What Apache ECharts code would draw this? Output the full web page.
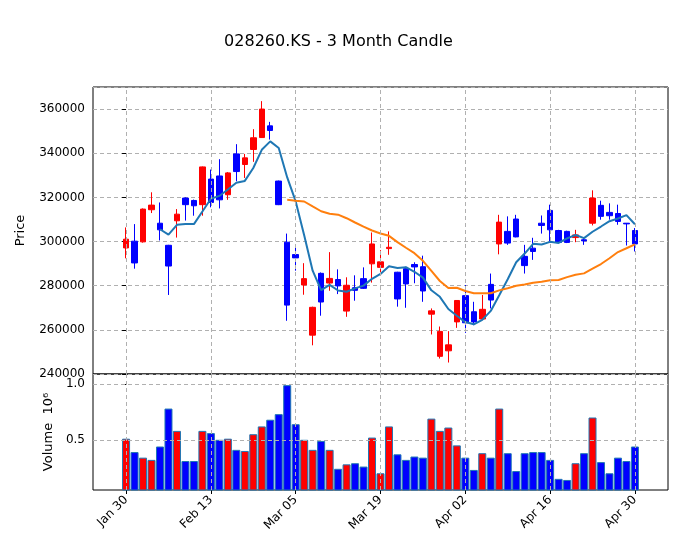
<!DOCTYPE html>
<html>
<head>
<meta charset="utf-8">
<script src="https://cdn.jsdelivr.net/npm/echarts@6/dist/echarts.min.js"></script>
<style>html,body{margin:0;padding:0;background:#fff}#chart{width:677px;height:553px}</style>
</head>
<body>
<div id="chart"></div>
<script>
const dates = ["Jan 30","Jan 31","Feb 01","Feb 02","Feb 05","Feb 06","Feb 07","Feb 08","Feb 09","Feb 12",
  "Feb 13","Feb 14","Feb 15","Feb 16","Feb 19","Feb 20","Feb 21","Feb 22","Feb 23","Feb 26",
  "Mar 05","Mar 06","Mar 07","Mar 08","Mar 11","Mar 12","Mar 13","Mar 14","Mar 15","Mar 18",
  "Mar 19","Mar 20","Mar 21","Mar 22","Mar 25","Mar 26","Mar 27","Mar 28","Mar 29","Apr 01",
  "Apr 02","Apr 03","Apr 04","Apr 05","Apr 08","Apr 09","Apr 10","Apr 11","Apr 12","Apr 15",
  "Apr 16","Apr 17","Apr 18","Apr 19","Apr 22","Apr 23","Apr 24","Apr 25","Apr 26","Apr 29","Apr 30"];
const opens = [297100,300160,299850,314400,308300,298300,309400,319700,318600,316700,
  328300,329700,321200,339700,334900,341700,347100,352400,327400,299700,
  294100,280300,257600,285600,281200,282800,268500,279100,283200,289900,
  288300,296800,286100,287700,289600,288600,267100,248000,250500,263600,
  275500,268200,264900,280600,298900,304600,310200,293300,297000,308300,
  314100,305000,304600,301800,300800,308300,316400,313200,312700,308300,305000];
const closes = [301070,290300,314700,316500,305300,288900,312400,316700,316200,333800,
  317700,318900,331100,331700,337900,347000,360000,350300,316700,271200,
  292600,283200,270200,272600,283300,279900,280200,277900,278800,298900,
  290800,297400,274000,280800,288500,277600,268600,259300,253200,273300,
  263200,263600,269300,273500,308800,299300,302100,289100,295500,307300,
  305300,299600,299600,303000,300300,319700,311400,311700,309100,308000,298900];
const lows = [292400,287700,299500,312900,300500,275800,301800,309500,311700,311700,
  315500,315000,318900,327300,328800,336100,346900,346200,316500,264100,
  286800,275900,253000,266400,277700,276200,265900,273200,278500,281400,
  285600,294000,270500,270000,281100,272700,257900,247000,245200,260900,
  258600,262100,264600,269700,294200,298500,301900,285500,291700,303600,
  300000,299300,299300,299700,298500,307300,309900,309900,307600,298200,295500];
const highs = [306400,307900,315000,322300,317700,298500,314700,320000,319000,334000,
  332600,337300,331500,344100,339700,350900,363600,354200,327600,303600,
  298800,290200,270500,286000,295200,287400,283800,284700,288300,304100,
  296100,304600,286300,288600,290600,293600,269700,261500,259400,273500,
  280300,272700,275800,285500,312100,311400,312100,298500,301700,311800,
  316700,305300,304900,305300,302000,323200,318500,317300,316700,308400,306100];
const volumes = [0.51,0.39,0.34,0.32,0.44,0.78,0.58,0.31,0.31,0.58,
  0.56,0.50,0.51,0.41,0.40,0.55,0.62,0.68,0.73,0.99,
  0.64,0.50,0.41,0.49,0.41,0.24,0.28,0.29,0.26,0.52,
  0.20,0.62,0.37,0.32,0.35,0.34,0.69,0.58,0.61,0.45,
  0.34,0.23,0.38,0.34,0.78,0.38,0.22,0.38,0.39,0.39,
  0.32,0.15,0.14,0.29,0.38,0.70,0.30,0.20,0.34,0.31,0.44];
const tickIdx = [0,10,20,30,40,50,60];
const volTicks = [0.5, 1.0];

const RED = '#ff0000', BLUE = '#0000ff';
const ma = (n) => closes.map((c, i) => {
  if (i < n - 1) return null;
  let s = 0;
  for (let k = i - n + 1; k <= i; k++) s += closes[k];
  return [i, s / n];
}).filter(Boolean);

const candles = opens.map((o, i) => [i, o, closes[i], lows[i], highs[i]]);
const vols = volumes.map((v, i) => ({
  value: [i, v],
  itemStyle: { color: closes[i] >= opens[i] ? RED : BLUE }
}));

const grid = { color: '#b0b0b0', type: [4, 3], width: 1 };
const xLines = tickIdx.map(i => ({ xAxis: i }));

const chart = echarts.init(document.getElementById('chart'));
const font = 'DejaVu Sans';
const xAx = (gi, showLabel) => ({
  type: 'value', gridIndex: gi, min: -3.9, max: 63.9,
  splitLine: { show: false },
  axisLine: { show: false },
  axisTick: { show: showLabel, length: 4, lineStyle: { color: '#000' }, customValues: tickIdx },
  axisLabel: {
    show: showLabel, customValues: tickIdx, rotate: 45, color: '#000', fontSize: 12, fontFamily: font,
    formatter: (v) => dates[Math.round(v)] || ''
  }
});

chart.setOption({
  animation: false,
  title: {
    text: '028260.KS - 3 Month Candle', left: 'center', top: 29,
    textStyle: { fontSize: 16, fontWeight: 'normal', color: '#000', fontFamily: font }
  },
  grid: [
    { left: 93, right: 9, top: 87, height: 287, show: true, borderColor: '#000', borderWidth: 1 },
    { left: 93, right: 9, top: 374, bottom: 63, show: true, borderColor: '#000', borderWidth: 1 }
  ],
  xAxis: [xAx(0, false), xAx(1, true)],
  yAxis: [
    {
      type: 'value', gridIndex: 0, min: 240000, max: 370000, interval: 20000,
      name: 'Price', nameLocation: 'middle', nameGap: 66, nameRotate: 90,
      nameTextStyle: { color: '#000', fontSize: 13, fontFamily: font },
      splitLine: { lineStyle: grid },
      axisLine: { show: false },
      axisTick: { show: true, length: 4, lineStyle: { color: '#000' } },
      axisLabel: { color: '#000', fontSize: 12, fontFamily: font, showMaxLabel: false, formatter: v => String(v) }
    },
    {
      type: 'value', gridIndex: 1, min: 0.05, max: 1.09,
      name: 'Volume  10⁶', nameLocation: 'middle', nameGap: 38, nameRotate: 90,
      nameTextStyle: { color: '#000', fontSize: 13, fontFamily: font },
      splitLine: { show: false },
      axisLine: { show: false },
      axisTick: { show: true, length: 4, lineStyle: { color: '#000' }, customValues: volTicks },
      axisLabel: { color: '#000', fontSize: 12, fontFamily: font, customValues: volTicks, formatter: v => v.toFixed(1) }
    }
  ],
  series: [
    {
      type: 'candlestick', xAxisIndex: 0, yAxisIndex: 0, data: candles, barWidth: 6,
      itemStyle: { color: RED, color0: BLUE, borderColor: RED, borderColor0: BLUE, borderWidth: 1 },
      markLine: { silent: true, symbol: 'none', label: { show: false }, lineStyle: grid, data: xLines }
    },
    {
      type: 'line', xAxisIndex: 0, yAxisIndex: 0, data: ma(5), showSymbol: false,
      lineStyle: { color: '#1f77b4', width: 2 }, z: 3
    },
    {
      type: 'line', xAxisIndex: 0, yAxisIndex: 0, data: ma(20), showSymbol: false,
      lineStyle: { color: '#ff7f0e', width: 2 }, z: 3
    },
    {
      // invisible carrier for the volume panel's dashed grid lines
      type: 'line', xAxisIndex: 1, yAxisIndex: 1, data: volumes.map((v, i) => [i, v]),
      showSymbol: false, lineStyle: { opacity: 0 }, z: 1,
      markLine: {
        silent: true, symbol: 'none', label: { show: false }, lineStyle: grid,
        data: xLines.concat(volTicks.map(v => ({ yAxis: v })))
      }
    },
    {
      type: 'bar', xAxisIndex: 1, yAxisIndex: 1, data: vols, barWidth: 8, z: 2,
      itemStyle: { borderColor: '#1f77b4', borderWidth: 1 }
    }
  ]
});
</script>
</body>
</html>
